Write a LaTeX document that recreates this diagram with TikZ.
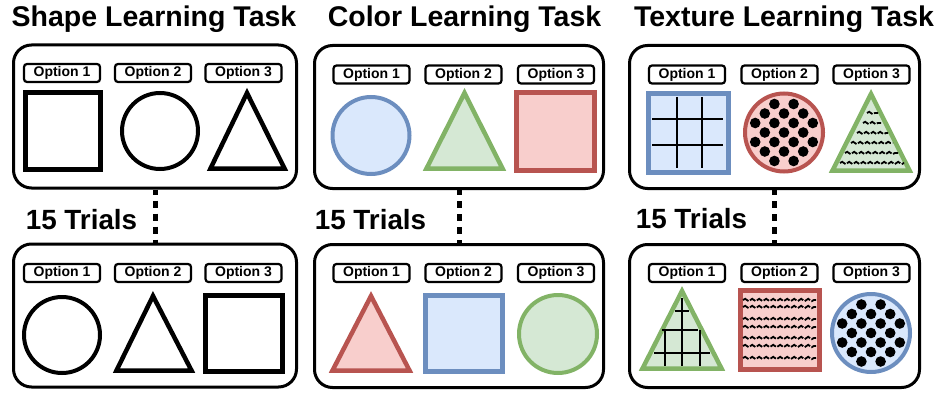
\documentclass[tikz,border=0pt]{standalone}
\usepackage{fontspec}
\setmainfont{Liberation Sans}
\usetikzlibrary{decorations.pathmorphing,positioning}
\definecolor{blueline}{HTML}{6C8EBF}
\definecolor{bluefill}{HTML}{DAE8FC}
\definecolor{greenline}{HTML}{82B366}
\definecolor{greenfill}{HTML}{D5E8D4}
\definecolor{redline}{HTML}{B85450}
\definecolor{redfill}{HTML}{F8CECC}
\tikzset{
    panel/.style={draw, line width=3pt, rounded corners=18pt, minimum height=143pt, inner sep=0pt},
    optbox/.style={draw, line width=2.2pt, rounded corners=3pt, minimum width=76pt, minimum height=18pt, inner sep=0pt, font=\fontsize{14}{16}\selectfont\bfseries},
    tasktitle/.style={font=\fontsize{28.5}{30}\selectfont\bfseries, inner sep=0pt, anchor=base},
    trials/.style={font=\fontsize{27.8}{30}\selectfont\bfseries, inner sep=0pt, anchor=base},
    trialline/.style={line width=5pt, dash pattern=on 7pt off 6pt, dash phase=2pt},
    blk/.style={draw=black, line width=4.5pt},
    bluesh/.style={draw=blueline, fill=bluefill, line width=4.5pt},
    greensh/.style={draw=greenline, fill=greenfill, line width=4.5pt},
    redsh/.style={draw=redline, fill=redfill, line width=4.5pt},
    gridln/.style={line width=2.6pt},
    waves/.style={line width=1.8pt, decorate, decoration={snake, segment length=7pt, amplitude=1.2pt}, dash pattern=on 6.5pt off 1.8pt}
}
\newcommand{\polkadots}[2]{%
    \foreach \j/\k in {-1/-3,1/-3,-2/-2,0/-2,2/-2,-3/-1,-1/-1,1/-1,3/-1,-2/0,0/0,2/0,-3/1,-1/1,1/1,3/1,-2/2,0/2,2/2,-1/3,1/3} {
        \fill ([shift={(9.6*\j,9.5*\k)}]#1,#2) circle (5.3pt);
    }
}
\begin{document}
\begin{tikzpicture}[x=1pt, y=-1pt]
    \useasboundingbox (0,0) rectangle (941,393);

    \node[tasktitle] (titleShape) at (154,27) {Shape Learning Task};
    \node[tasktitle] (titleColor) at (464.5,27) {Color Learning Task};
    \node[tasktitle] (titleTexture) at (784,27) {Texture Learning Task};

    \node[panel, minimum width=283pt] (shapeTop) at (155,116.5) {};
    \node[panel, minimum width=283pt] (shapeBot) at (155,315.5) {};
    \node[panel, minimum width=289pt] (colorTop) at (459,117) {};
    \node[panel, minimum width=289pt] (colorBot) at (459,316) {};
    \node[panel, minimum width=290pt] (textureTop) at (774.5,117) {};
    \node[panel, minimum width=290pt] (textureBot) at (774.5,316) {};

    \node[trials] (trialsShape) at (81.5,229) {15 Trials};
    \node[trials] (trialsColor) at (370.5,229) {15 Trials};
    \node[trials] (trialsTexture) at (691.5,228) {15 Trials};

    \draw[trialline] (shapeTop.south) -- (shapeBot.north);
    \draw[trialline] (colorTop.south) -- (colorBot.north);
    \draw[trialline] (textureTop.south) -- (textureBot.north);

    \foreach \n/\x in {1/62,2/153,3/243.5} {
        \node[optbox] (shapeTopOpt\n) at (\x,73) {Option \n};
        \node[optbox] (shapeBotOpt\n) at (\x,273) {Option \n};
    }
    \foreach \n/\x in {1/371.5,2/463.5,3/556} {
        \node[optbox] (colorTopOpt\n) at (\x,74.5) {Option \n};
        \node[optbox] (colorBotOpt\n) at (\x,273) {Option \n};
    }
    \foreach \n/\x in {1/687,2/779.5,3/871.5} {
        \node[optbox] (textureTopOpt\n) at (\x,74.5) {Option \n};
        \node[optbox] (textureBotOpt\n) at (\x,273) {Option \n};
    }

    % shape task
    \draw[blk, line width=5pt] (25.5,92.5) rectangle (100.5,169.5);
    \draw[blk, line width=4pt] (160,131) circle (38pt);
    \draw[blk] (247,93) -- (210.5,168.5) -- (284.5,168.5) -- cycle;
    \draw[blk, line width=4pt] (62,335) circle (38pt);
    \draw[blk] (153,296) -- (116.5,370.5) -- (191.5,370.5) -- cycle;
    \draw[blk, line width=5pt] (205.5,295.5) rectangle (282.5,371.5);

    % color task
    \draw[bluesh, line width=4pt] (371,135.5) circle (38.5pt);
    \draw[greensh] (464.5,93) -- (426.5,168.5) -- (502.5,168.5) -- cycle;
    \draw[redsh, line width=5pt] (516.5,92.5) rectangle (594.5,170.5);
    \draw[redsh] (371,296) -- (332.5,370.5) -- (409.5,370.5) -- cycle;
    \draw[bluesh, line width=5pt] (425.5,295.5) rectangle (502.5,371.5);
    \draw[greensh, line width=4pt] (558,334) circle (39pt);

    % texture task
    \draw[bluesh, line width=5pt] (648.5,93.5) rectangle (728.5,172.5);
    \foreach \x in {677,702} \draw[gridln] (\x,97) -- (\x,168);
    \foreach \y in {119,145} \draw[gridln] (652,\y) -- (723,\y);
    \draw[redsh, line width=4pt] (784,132.5) circle (39pt);
    \polkadots{784}{132.5}
    \draw[greensh] (871,94) -- (832.5,170.5) -- (909.5,170.5) -- cycle;
    \foreach \y/\a/\b in {113/867/878,123/863/881,133/857/888,143/851/893,153/845/898,163/840/904}
        \draw[waves] (\a,\y) -- (\b,\y);

    \draw[greensh] (682,291) -- (642.5,368.5) -- (721.5,368.5) -- cycle;
    \draw[gridln] (682,298) -- (682,366);
    \draw[gridln] (665,330) -- (665,366);
    \draw[gridln] (700,330) -- (700,366);
    \draw[gridln] (675,311) -- (689,311);
    \draw[gridln] (662,330) -- (698,330);
    \draw[gridln] (654,353) -- (710,353);
    \draw[redsh, line width=5pt] (740.5,290.5) rectangle (819.5,369.5);
    \foreach \y in {300,307,319,327,338,346,358}
        \draw[waves] (743,\y) -- (816,\y);
    \draw[bluesh, line width=4pt] (871,333) circle (39pt);
    \polkadots{871}{333}
\end{tikzpicture}
\end{document}
